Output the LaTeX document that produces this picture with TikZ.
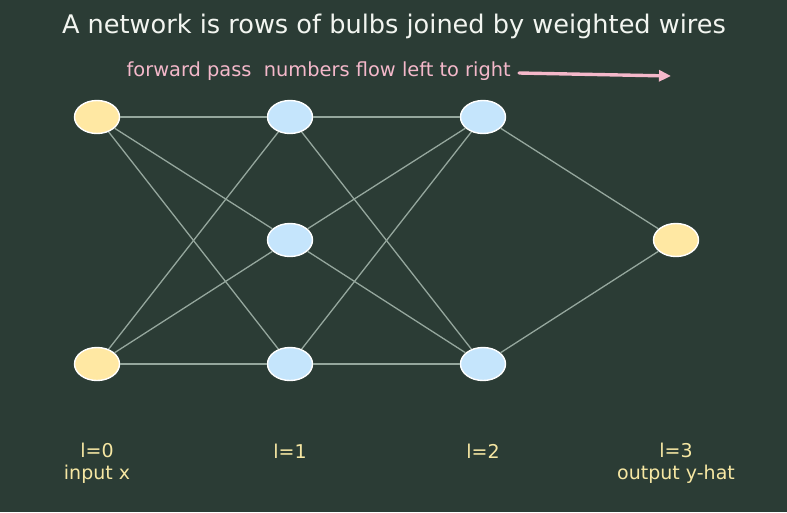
\documentclass[tikz,border=0pt]{standalone}
\usepackage{fontspec}
\setmainfont{DejaVu Sans}
\usetikzlibrary{shapes.geometric,arrows.meta}
\definecolor{bg}{HTML}{2B3C35}
\definecolor{yel}{HTML}{FFE8A3}
\definecolor{blu}{HTML}{C5E5FC}
\definecolor{edge}{HTML}{95A79D}
\definecolor{pinkc}{HTML}{F4B8CA}
\definecolor{labc}{HTML}{F6E7A3}
\definecolor{titc}{HTML}{F2F5F0}
\tikzset{
  bulb/.style={ellipse, draw=white, line width=1.4pt, minimum width=45pt, minimum height=33pt, inner sep=0pt},
  inb/.style={bulb, fill=yel},
  hid/.style={bulb, fill=blu},
  wire/.style={draw=edge, line width=1.3pt},
  lab/.style={text=labc, font=\fontsize{19}{22}\selectfont, align=center},
}
\begin{document}
\begin{tikzpicture}[x=1pt,y=-1pt]
\fill[bg] (0,0) rectangle (787,512);
\useasboundingbox (0,0) rectangle (787,512);
\node[text=titc, font=\fontsize{25.6}{30}\selectfont] (title) at (394,26) {A network is rows of bulbs joined by weighted wires};
\node[text=pinkc, font=\fontsize{19.4}{23}\selectfont, anchor=east, inner sep=0pt] (fp) at (511,71) {forward pass\ \ numbers flow left to right};
\coordinate (as) at (519,73);
\coordinate (ae) at (671,76);
\draw[pinkc, line width=3.4pt, line cap=round, -{Triangle[length=12pt,width=11pt]}] (as) -- (ae);
\node[inb] (a0) at (97,117) {};
\node[inb] (a1) at (97,364) {};
\node[hid] (b0) at (290,117) {};
\node[hid] (b1) at (290,240) {};
\node[hid] (b2) at (290,364) {};
\node[hid] (c0) at (483,117) {};
\node[hid] (c1) at (483,364) {};
\node[inb] (d0) at (676,240) {};
\foreach \s in {a0,a1}{\foreach \t in {b0,b1,b2}{\draw[wire] (\s) -- (\t);}}
\foreach \s in {b0,b1,b2}{\foreach \t in {c0,c1}{\draw[wire] (\s) -- (\t);}}
\foreach \s in {c0,c1}{\draw[wire] (\s) -- (d0);}
\node[lab] (l0) at (97,463) {l=0\\input x};
\node[lab] (l1) at (290,451) {l=1};
\node[lab] (l2) at (483,451) {l=2};
\node[lab] (l3) at (676,463) {l=3\\output y-hat};
\end{tikzpicture}
\end{document}
